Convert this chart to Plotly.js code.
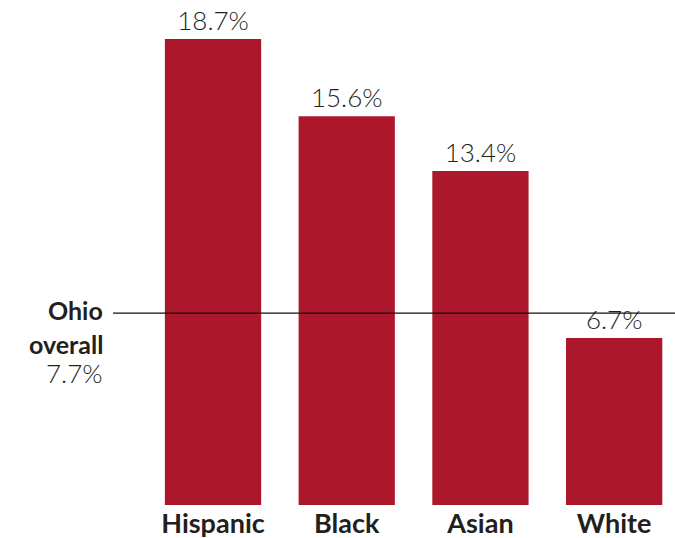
<!DOCTYPE html>
<html>
<head>
<meta charset="utf-8">
<script src="https://cdn.plot.ly/plotly-3.0.1.min.js"></script>
<style>html,body{margin:0;padding:0;background:#fff;}#chart{width:675px;height:538px;}</style>
</head>
<body>
<div id="chart"></div>
<script>
const categories = ["Hispanic", "Black", "Asian", "White"];
const values = [18.7, 15.6, 13.4, 6.7];
const valueLabels = ["18.7%", "15.6%", "13.4%", "6.7%"];
const ohioOverall = 7.7;
const ohioLabel = "7.7%";

const trace = {
  type: "bar",
  x: categories,
  y: values,
  text: valueLabels,
  textposition: "outside",
  cliponaxis: false,
  textfont: {family: "Lato", size: 26, color: "#231f20", weight: 300},
  marker: {color: "#AC172C"},
  hoverinfo: "none"
};

const layout = {
  width: 675, height: 538,
  margin: {l: 113, r: 0, t: 0, b: 33},
  paper_bgcolor: "#fff", plot_bgcolor: "#fff",
  bargap: 0.28,
  showlegend: false,
  xaxis: {
    range: [-0.748, 3.455],
    showgrid: false, zeroline: false, showline: false, ticks: "",
    tickfont: {family: "Lato", size: 27, color: "#231f20", weight: 700},
    ticklabelstandoff: 0
  },
  yaxis: {range: [0, 20.26], visible: false, showgrid: false, zeroline: false},
  shapes: [{
    type: "line", xref: "paper", x0: 0, x1: 1, yref: "y", y0: ohioOverall, y1: ohioOverall,
    line: {color: "#111111", width: 1.2}, layer: "above"
  }],
  annotations: [
    {xref: "paper", x: -0.0142, xanchor: "right", yref: "y", y: ohioOverall, yanchor: "middle", yshift: 3,
     text: "<b>Ohio</b>", showarrow: false, font: {family: "Lato", size: 25, color: "#231f20"}},
    {xref: "paper", x: -0.0142, xanchor: "right", yref: "y", y: ohioOverall, yanchor: "middle", yshift: -31,
     text: "<b>overall</b>", showarrow: false, font: {family: "Lato", size: 25, color: "#231f20"}},
    {xref: "paper", x: -0.0142, xanchor: "right", yref: "y", y: ohioOverall, yanchor: "middle", yshift: -60,
     text: ohioLabel, showarrow: false, font: {family: "Lato", size: 26, color: "#231f20", weight: 300}}
  ]
};

Plotly.newPlot("chart", [trace], layout, {displayModeBar: false, staticPlot: true});
</script>
</body>
</html>
